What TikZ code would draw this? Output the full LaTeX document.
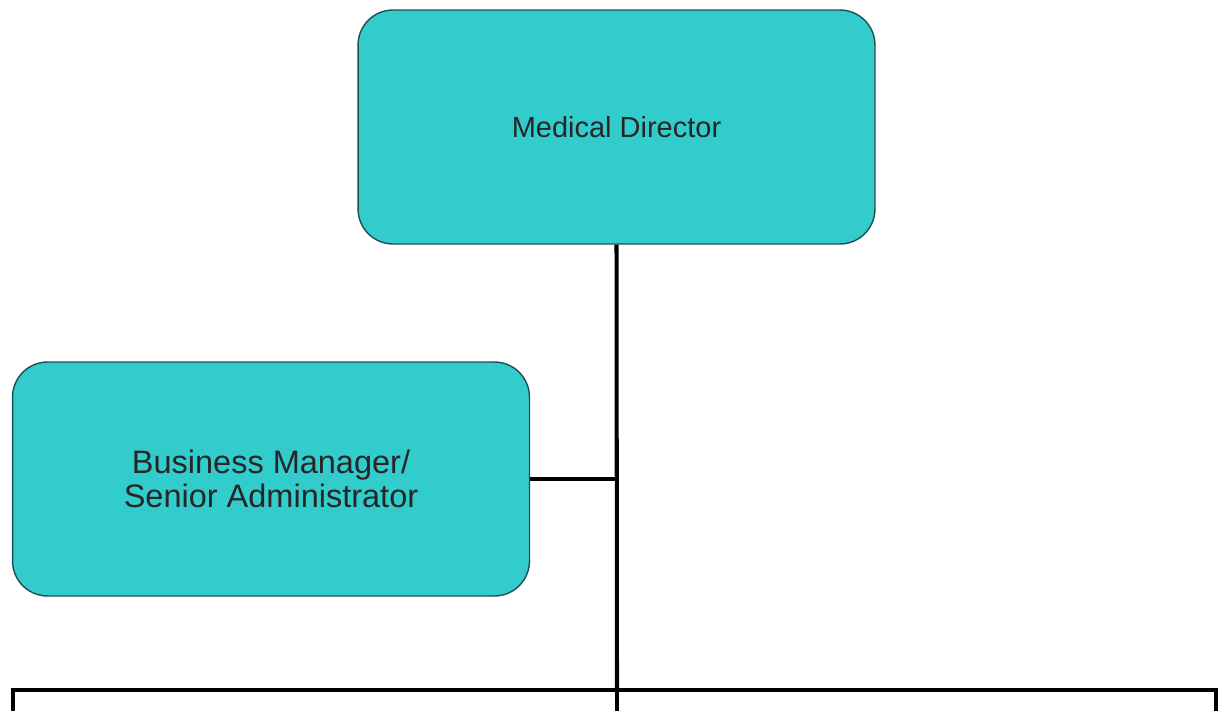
\documentclass[tikz,border=0pt]{standalone}
\usepackage{fontspec}
\setmainfont{Liberation Sans}
\usepackage{tikz}

\definecolor{boxteal}{HTML}{33CCCC}
\definecolor{boxedge}{HTML}{1F4F55}

\tikzset{
  post/.style={draw=boxedge,fill=boxteal,rounded corners=0.7cm,line width=0.8pt,
    minimum width=10.34cm,minimum height=4.68cm,align=center,text=black!85},
  link/.style={line width=2.3pt}
}

\begin{document}
\begin{tikzpicture}[x=0.02cm,y=-0.02cm]
			\useasboundingbox (0,0) rectangle (1219,710);
			\node[post,font=\fontsize{16.5}{20}\selectfont](director)at(616.5,127){Medical Director};
			\node[post,font=\fontsize{18.5}{19.5}\selectfont](manager)at(271,479){Business Manager/\\Senior Administrator};
			\coordinate(hub)at(617,690);
			\coordinate(left)at(13,690);
			\coordinate(right)at(1216,690);
			\coordinate(leftend)at(13,712);
			\coordinate(midend)at(617,712);
			\coordinate(rightend)at(1216,712);
			\draw[link](director.south)--(hub);
			\draw[link](manager.east)--(manager.east-|hub);
			\draw[link,line cap=rect](leftend)--(left)--(right)--(rightend);
			\draw[link](hub)--(midend);
		\end{tikzpicture}
\end{document}
